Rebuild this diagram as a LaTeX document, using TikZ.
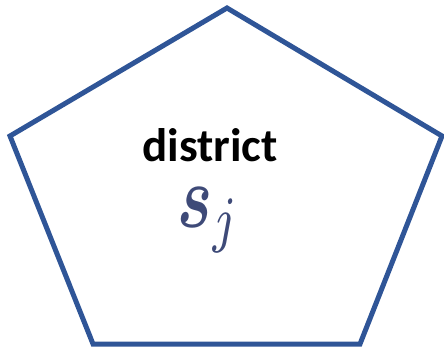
\documentclass[tikz,border=0pt]{standalone}
\usepackage{amsmath,bm}
\usepackage{fontspec}
\newfontfamily\labelfont{Carlito}
\definecolor{pentblue}{HTML}{2F5597}
\definecolor{symcol}{HTML}{3E4A78}
\begin{document}
\begin{tikzpicture}[x=1pt,y=1pt,
  edge/.style={draw=pentblue,line width=5pt,line join=miter},
  lbl/.style={font=\labelfont\bfseries\fontsize{47}{50}\selectfont,anchor=base,inner sep=0pt},
  sym/.style={text=symcol,anchor=base,inner sep=0pt}]
\useasboundingbox (0,0) rectangle (444,348);
\coordinate (t) at (227,340);
\coordinate (r) at (442,212);
\coordinate (br) at (360,4);
\coordinate (bl) at (93,4);
\coordinate (l) at (10,212);
\draw[edge] (t) -- (r) -- (br) -- (bl) -- (l) -- cycle;
\node[lbl] (name) at (210,186) {district};
\node[sym] (s) at (209,121) {\scalebox{6.6}[9.0]{$\bm{s}_{j}$}};
\end{tikzpicture}
\end{document}
